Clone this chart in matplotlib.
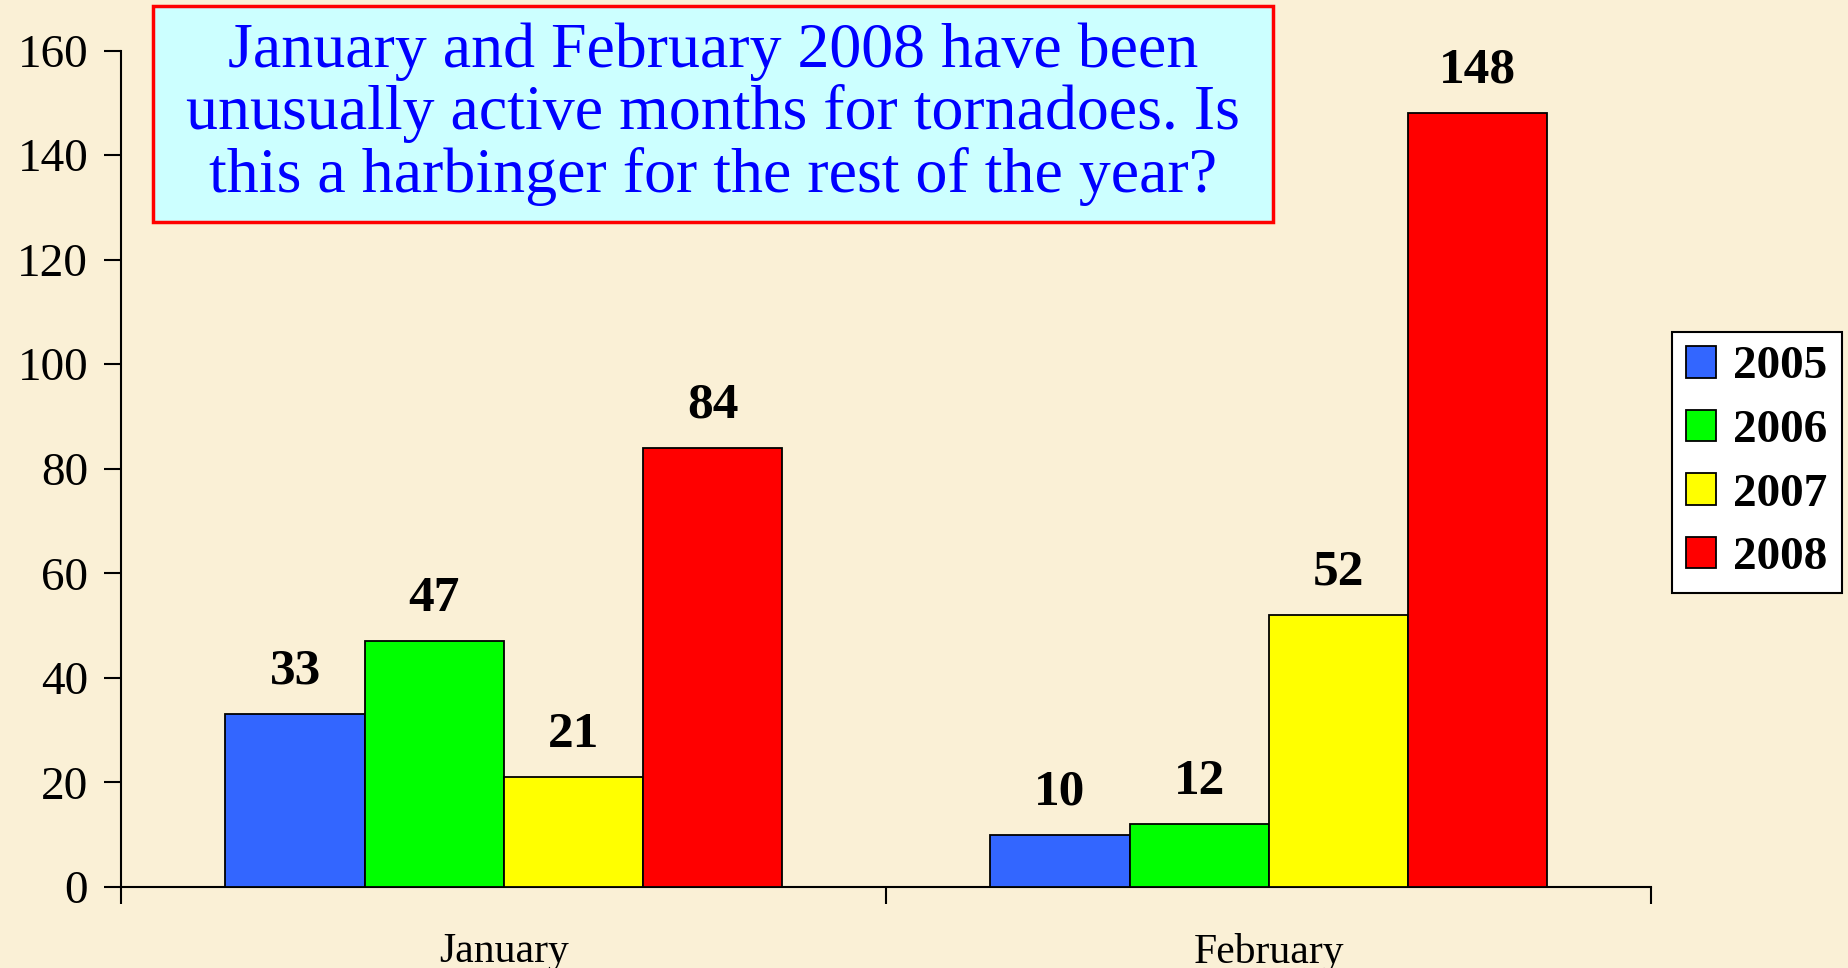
import matplotlib
matplotlib.use("Agg")
import matplotlib.pyplot as plt
import numpy as np
from matplotlib.patches import Rectangle

plt.rcParams['font.family'] = ['Liberation Serif', 'DejaVu Serif']

# donnees
months = ["January", "February"]
years = ["2005", "2006", "2007", "2008"]
tornado_counts = {
    "2005": [33, 10],
    "2006": [47, 12],
    "2007": [21, 52],
    "2008": [84, 148],
}
bar_colors = ["#3366FF", "#00FF00", "#FFFF00", "#FF0000"]
yticks = [0, 20, 40, 60, 80, 100, 120, 140, 160]
title_text = ("January and February 2008 have been\n"
              "unusually active months for tornadoes. Is\n"
              "this a harbinger for the rest of the year?")

bg = "#FAF0D6"
fig = plt.figure(figsize=(18.49, 9.68), dpi=100, facecolor=bg)
ax = fig.add_axes([0.0657, 0.0839, 0.8273, 0.8637])
ax.set_facecolor(bg)

x = np.arange(len(months))
w = 0.182
for i, yr in enumerate(years):
    bars = ax.bar(x + (i - 1.5) * w, tornado_counts[yr], w, color=bar_colors[i],
                  edgecolor="black", linewidth=1.3, label=yr, zorder=3)
    ax.bar_label(bars, padding=14, fontsize=37, fontweight="bold")

ax.set_xlim(-0.5, 1.5)
ax.set_ylim(0, 160)
ax.set_yticks(yticks)
ax.tick_params(axis="y", labelsize=34, length=12, width=1.5, pad=12)
ax.set_xticks(x)
ax.set_xticklabels(months)
ax.tick_params(axis="x", which="major", length=0, labelsize=30, pad=33)
ax.set_xticks([-0.5, 0.5, 1.5], minor=True)
ax.tick_params(axis="x", which="minor", length=12, width=1.5)
for s in ["top", "right"]:
    ax.spines[s].set_visible(False)
for s in ["left", "bottom"]:
    ax.spines[s].set_linewidth(1.5)

# legende
leg = fig.legend(loc="center", bbox_to_anchor=(0.950, 0.522),
                 prop={"weight": "bold", "size": 34}, handlelength=0.65, handleheight=0.65,
                 handletextpad=0.35, labelspacing=0.45, borderpad=0.3, borderaxespad=0,
                 fancybox=False, framealpha=1, edgecolor="black")
leg.get_frame().set_linewidth(1.5)

# encadre du titre
fig.patches.append(Rectangle((0.0827, 0.7707), 0.6057, 0.2231, transform=fig.transFigure,
                             facecolor="#CCFFFF", edgecolor="#FF0000", linewidth=2.5, zorder=5))
fig.text(0.3856, 0.882, title_text, ha="center", va="center", fontsize=46,
         color="#0000FF", linespacing=1.08, zorder=6)

fig.savefig("out.png", dpi=100, facecolor=bg)
